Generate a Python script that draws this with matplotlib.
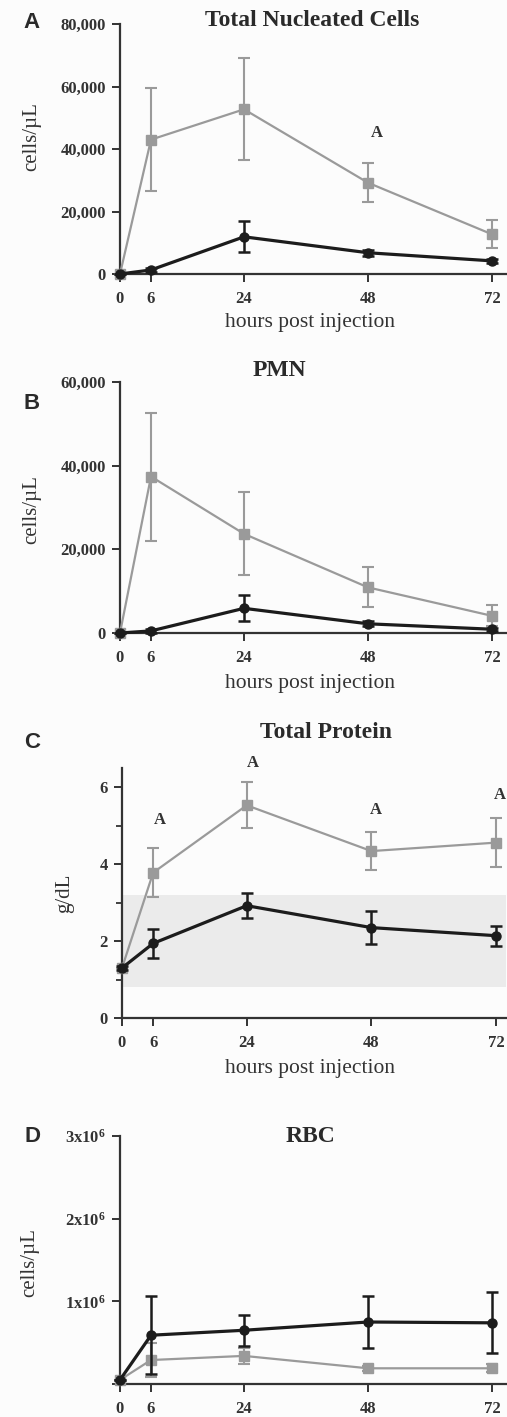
"""
Four-panel time course: nucleated cells, PMN, total protein, RBC
"""
import matplotlib
matplotlib.use('Agg')
import matplotlib.pyplot as plt
from matplotlib.ticker import FuncFormatter, FixedLocator

plt.rcParams['font.family'] = ['Liberation Serif', 'DejaVu Serif']
plt.rcParams['mathtext.fontset'] = 'custom'
plt.rcParams['mathtext.rm'] = 'Liberation Serif:bold'
plt.rcParams['mathtext.bf'] = 'Liberation Serif:bold'
plt.rcParams['mathtext.default'] = 'regular'

# ---- data -------------------------------------------------------------
hours = [0, 6, 24, 48, 72]

tnc_gray = [0, 43000, 52700, 29200, 12700]
tnc_gray_err = [0, 16500, 16300, 6200, 4500]
tnc_black = [0, 1300, 11900, 6800, 4200]
tnc_black_err = [0, 700, 5000, 1000, 600]

pmn_gray = [0, 37400, 23700, 10900, 4100]
pmn_gray_err = [0, 15300, 9900, 4800, 2500]
pmn_black = [0, 500, 5900, 2200, 900]
pmn_black_err = [0, 400, 3100, 600, 400]

tp_gray = [1.3, 3.78, 5.53, 4.34, 4.56]
tp_gray_err = [0, 0.63, 0.60, 0.49, 0.63]
tp_black = [1.3, 1.94, 2.92, 2.35, 2.14]
tp_black_err = [0.05, 0.38, 0.33, 0.43, 0.26]
tp_reference = [0.8, 3.2]   # shaded reference interval

rbc_gray = [50000, 290000, 340000, 190000, 190000]
rbc_gray_err = [0, 200000, 100000, 30000, 50000]
rbc_black = [50000, 590000, 650000, 750000, 740000]
rbc_black_err = [0, 470000, 190000, 310000, 370000]

# "A" significance letters: (hour, y)
tnc_letters = [(49.7, 45000)]
tp_letters = [(7.3, 5.14), (25.2, 6.62), (48.8, 5.4), (72.7, 5.8)]

GRAY = '#9a9a9a'
BLACK = '#1c1c1c'
W, H = 507, 1417


def fx(px):
    return px / W


def fy(py):
    return 1 - py / H


def style_axes(ax, xmax, ylim, yticks, fmt, minor=None):
    ax.set_xlim(0, xmax)
    ax.set_ylim(*ylim)
    for s in ['top', 'right']:
        ax.spines[s].set_visible(False)
    for s in ['left', 'bottom']:
        ax.spines[s].set_linewidth(1.6)
        ax.spines[s].set_color('#333333')
    ax.set_xticks(hours)
    ax.set_yticks(yticks)
    ax.yaxis.set_major_formatter(FuncFormatter(fmt))
    if minor is not None:
        ax.yaxis.set_minor_locator(FixedLocator(minor))
        ax.tick_params(axis='y', which='minor', length=4, width=1.3, color='#333333')
    ax.tick_params(axis='both', which='major', length=6, width=1.4,
                   color='#333333', labelsize=12)
    ax.tick_params(axis='x', pad=6)
    ax.tick_params(axis='y', pad=4)
    for lab in ax.get_xticklabels() + ax.get_yticklabels():
        lab.set_fontweight('bold')
        lab.set_color('#333333')
    ax.set_facecolor('none')


def draw_series(ax, gray, gray_err, black, black_err):
    ax.errorbar(hours, gray, yerr=gray_err, color=GRAY, lw=1.6, marker='s',
                ms=7, capsize=4, capthick=1.5, elinewidth=1.5, clip_on=False, zorder=3)
    ax.errorbar(hours, black, yerr=black_err, color=BLACK, lw=2.3, marker='o',
                ms=6.5, capsize=4, capthick=1.8, elinewidth=1.8, clip_on=False, zorder=4)


fig = plt.figure(figsize=(W / 100, H / 100), dpi=100)
fig.patch.set_facecolor('#fcfcfc')

thousands = lambda v, p: f'{int(v):,}'
plain = lambda v, p: f'{int(v)}'
sci = lambda v, p: '' if v == 0 else f'{int(v / 1e6)}x10$^{{6}}$'

# ---- A: total nucleated cells ------------------------------------------
axA = fig.add_axes([fx(120), fy(274), fx(386), 250 / H])
draw_series(axA, tnc_gray, tnc_gray_err, tnc_black, tnc_black_err)
style_axes(axA, 74.7, (0, 80000), [0, 20000, 40000, 60000, 80000], thousands)
for hx, hy in tnc_letters:
    axA.text(hx, hy, 'A', fontsize=12, fontweight='bold', color='#333333',
             ha='center', va='center')

# ---- B: PMN -------------------------------------------------------------
axB = fig.add_axes([fx(120), fy(633), fx(386), 251 / H])
draw_series(axB, pmn_gray, pmn_gray_err, pmn_black, pmn_black_err)
style_axes(axB, 74.7, (0, 60000), [0, 20000, 40000, 60000], thousands)

# ---- C: total protein ---------------------------------------------------
axC = fig.add_axes([fx(122), fy(1018), fx(384), 250 / H])
axC.axhspan(tp_reference[0], tp_reference[1], color='#ebebeb', zorder=0, lw=0)
draw_series(axC, tp_gray, tp_gray_err, tp_black, tp_black_err)
style_axes(axC, 73.9, (0, 6.5), [0, 2, 4, 6], plain, minor=[1, 3, 5])
for hx, hy in tp_letters:
    axC.text(hx, hy, 'A', fontsize=12, fontweight='bold', color='#333333',
             ha='center', va='center', clip_on=False)

# ---- D: RBC -------------------------------------------------------------
axD = fig.add_axes([fx(120), fy(1384), fx(386), 248 / H])
draw_series(axD, rbc_gray, rbc_gray_err, rbc_black, rbc_black_err)
style_axes(axD, 74.7, (0, 3e6), [0, 1e6, 2e6, 3e6], sci)

# ---- titles, panel letters, axis labels -------------------------------
titles = [('Total Nucleated Cells', 312, 20), ('PMN', 279, 371),
          ('Total Protein', 326, 733), ('RBC', 310, 1137)]
for txt, px, py in titles:
    fig.text(fx(px), fy(py), txt, fontsize=17, fontweight='bold',
             color='#2a2a2a', ha='center', va='center')

for letter, py in [('A', 22), ('B', 403), ('C', 743), ('D', 1137)]:
    fig.text(fx(32), fy(py), letter, fontsize=16, fontweight='bold',
             family='Liberation Sans', color='#2a2a2a', ha='center', va='center')

for txt, px, py in [('cells/µL', 32, 137), ('cells/µL', 32, 510),
                    ('g/dL', 65, 893), ('cells/µL', 30, 1263)]:
    fig.text(fx(px), fy(py), txt, fontsize=15, rotation=90,
             color='#333333', ha='center', va='center')

for py in [323, 683, 1068]:
    fig.text(fx(310), fy(py), 'hours post injection', fontsize=15.5,
             color='#333333', ha='center', va='center')

fig.savefig('out.png', dpi=100, facecolor=fig.get_facecolor())
